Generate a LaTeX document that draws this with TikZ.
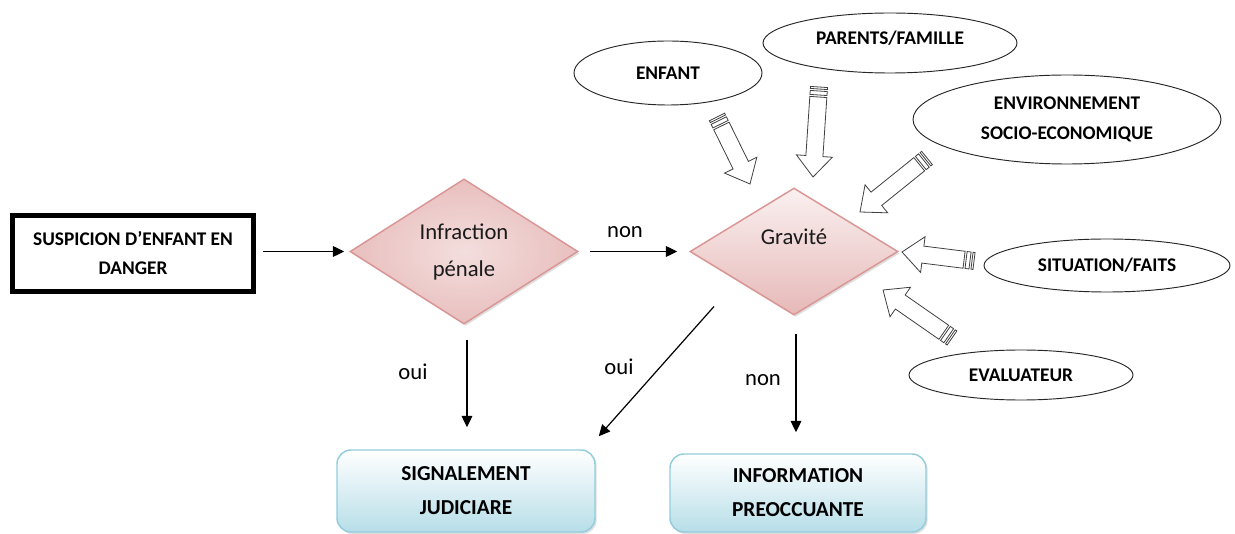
\documentclass[tikz,border=0pt]{standalone}
\usepackage{fontspec}
\setmainfont{Carlito}
\usetikzlibrary{shapes.geometric,arrows.meta,calc,shadows}

\definecolor{dborder}{HTML}{D99694}
\definecolor{dtop}{HTML}{FAF0F0}
\definecolor{dbot}{HTML}{E6B9B8}
\definecolor{dinner}{HTML}{F3DEDD}
\definecolor{douter}{HTML}{E8BFBE}
\definecolor{bborder}{HTML}{93CDDD}
\definecolor{bbot}{HTML}{B7DEE8}
\definecolor{regtext}{HTML}{1A1A1A}

\newcommand\stripedarrow[2]{%
  \pgfmathanglebetweenpoints{\pgfpointanchor{#1}{center}}{\pgfpointanchor{#2}{center}}%
  \edef\saang{\pgfmathresult}%
  \pgfpointdiff{\pgfpointanchor{#1}{center}}{\pgfpointanchor{#2}{center}}%
  \pgfgetlastxy{\sadx}{\sady}%
  \pgfmathsetlengthmacro\salen{veclen(\sadx,\sady)}%
  \begin{scope}[shift={(#1)},rotate=\saang]
    \draw[blockarrow] (0pt,-6.4pt) rectangle (1.5pt,6.4pt);
    \draw[blockarrow] (3pt,-6.4pt) rectangle (6pt,6.4pt);
    \draw[blockarrow] (7.5pt,-6.4pt) -- (\salen-15.75pt,-6.4pt) -- (\salen-15.75pt,-13.5pt)
      -- (\salen,0pt) -- (\salen-15.75pt,13.5pt) -- (\salen-15.75pt,6.4pt) -- (7.5pt,6.4pt) -- cycle;
  \end{scope}}

\begin{document}
\begin{tikzpicture}[x=0.75pt,y=-0.75pt,
  capsA/.style={font=\fontsize{14.5pt}{21.75pt}\selectfont\bfseries},
  capsB/.style={font=\fontsize{16pt}{25.5pt}\selectfont\bfseries},
  regfont/.style={font=\fontsize{17pt}{27.75pt}\selectfont},
  startbox/.style={draw=black,line width=3.75pt,fill=white,inner sep=0pt,align=center,capsA},
  decision/.style={shape=diamond,draw=dborder,line width=1.1pt,inner sep=0pt,align=center,
    regfont,text=regtext,drop shadow={opacity=0.25,shadow xshift=1.2pt,shadow yshift=-1.5pt}},
  outcome/.style={rounded corners=10.5pt,draw=bborder,line width=1.1pt,top color=white,
    bottom color=bbot,inner sep=0pt,align=center,capsB,
    drop shadow={opacity=0.25,shadow xshift=1.2pt,shadow yshift=-1.5pt}},
  factor/.style={shape=ellipse,draw=black!85,line width=0.7pt,fill=white,inner sep=0pt,
    align=center,capsA},
  flow/.style={draw=black,line width=0.9pt,-{Triangle[length=8.5pt,width=8pt]}},
  lbl/.style={regfont,text=black,inner sep=0pt},
  blockarrow/.style={draw=black!75,line width=0.6pt,fill=white,line join=miter}
]
\useasboundingbox[fill=white] (0,0) rectangle (1235,534);

% main flow nodes
\node[startbox,minimum width=180.75pt,minimum height=57pt] (susp) at (133,253.5)
  {SUSPICION D’ENFANT EN\\DANGER};
\node[decision,shading=radial,inner color=dinner,outer color=douter,
  minimum width=171pt,minimum height=105.75pt] (infr) at (464,251.5) {Infraction\\pénale};
\node[decision,top color=dtop,bottom color=dbot,minimum width=156pt,minimum height=95.25pt,
  label={[regfont,text=regtext,yshift=10.9pt]center:Gravité}] (grav) at (794,251.5) {};
\node[outcome,minimum width=193.5pt,minimum height=61.5pt] (signal) at (466,491)
  {SIGNALEMENT\\JUDICIARE};
\node[outcome,minimum width=192pt,minimum height=58.5pt] (info) at (798,493)
  {INFORMATION\\PREOCCUANTE};

% factor ellipses
\node[factor,minimum width=141pt,minimum height=48pt] (enfant) at (668,73) {ENFANT};
\node[factor,minimum width=190.5pt,minimum height=45pt,
  label={[capsA,yshift=3.75pt]center:PARENTS/FAMILLE}] (parents) at (890,43) {};
\node[factor,minimum width=231pt,minimum height=66.75pt,
  font=\fontsize{14.5pt}{22.5pt}\selectfont\bfseries] (env) at (1067,119.5)
  {ENVIRONNEMENT\\SOCIO-ECONOMIQUE};
\node[factor,minimum width=184.5pt,minimum height=39.75pt] (sit) at (1107,265.5) {SITUATION/FAITS};
\node[factor,minimum width=168pt,minimum height=37.5pt] (eval) at (1021,375) {EVALUATEUR};

% flow connectors
\draw[flow,shorten <=5.25pt,shorten >=3.75pt] (susp.east |- infr.west) -- (infr.west);
\draw[flow,shorten <=8.25pt,shorten >=9pt] (infr.east) -- (grav.west);
\draw[flow] ($(infr.south -| signal.north)+(1,15)$) -- ($(signal.north)+(1,-22)$);
\draw[flow] ($(grav.center)+(-80,55)$) -- ($(signal.north east)+(3,-13)$);
\draw[flow] ($(grav.south)+(2,18)$) -- ($(info.north)+(-2,-21)$);

% connector labels
\node[lbl] (lnon1) at (625,232) {non};
\node[lbl] (loui1) at (413,372) {oui};
\node[lbl] (loui2) at (619,367) {oui};
\node[lbl] (lnon2) at (763,380) {non};

% striped block arrows toward Gravite
\coordinate (a1t) at (717,117); \coordinate (a1h) at (750,184);
\coordinate (a2t) at (819,87);  \coordinate (a2h) at (813,177);
\coordinate (a3t) at (927,158); \coordinate (a3h) at (860,212);
\coordinate (a4t) at (974,261); \coordinate (a4h) at (902,252);
\coordinate (a5t) at (952,338); \coordinate (a5h) at (883,290);
\stripedarrow{a1t}{a1h}
\stripedarrow{a2t}{a2h}
\stripedarrow{a3t}{a3h}
\stripedarrow{a4t}{a4h}
\stripedarrow{a5t}{a5h}
\end{tikzpicture}
\end{document}
